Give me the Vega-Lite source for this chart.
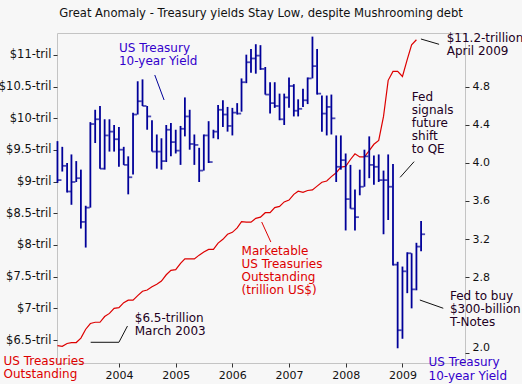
{
  "$schema": "https://vega.github.io/schema/vega-lite/v6.json",
  "width": 408,
  "height": 330,
  "autosize": "none",
  "padding": {"left": 57, "top": 33, "right": 57, "bottom": 21},
  "background": "#f7f7f7",
  "config": {
    "font": "DejaVu Sans",
    "view": {"stroke": "#c4c4c4", "strokeWidth": 1},
    "axis": {"labelFont": "DejaVu Sans", "titleFont": "DejaVu Sans", "grid": false, "domain": false, "labelColor": "#111", "tickColor": "#333"}
  },
  "title": {"text": "Great Anomaly - Treasury yields Stay Low, despite Mushrooming debt", "fontSize": 11.6, "fontWeight": "normal", "color": "#111", "anchor": "middle", "offset": 12},
  "datasets": {
    "debt": [
      {"month": "2002-12-01", "trillions": 6.41}, {"month": "2003-01-01", "trillions": 6.40}, {"month": "2003-02-01", "trillions": 6.445},
      {"month": "2003-03-01", "trillions": 6.46}, {"month": "2003-04-01", "trillions": 6.46}, {"month": "2003-05-01", "trillions": 6.53},
      {"month": "2003-06-01", "trillions": 6.67}, {"month": "2003-07-01", "trillions": 6.76}, {"month": "2003-08-01", "trillions": 6.78},
      {"month": "2003-09-01", "trillions": 6.78}, {"month": "2003-10-01", "trillions": 6.87}, {"month": "2003-11-01", "trillions": 6.92},
      {"month": "2003-12-01", "trillions": 7.00}, {"month": "2004-01-01", "trillions": 7.01}, {"month": "2004-02-01", "trillions": 7.09},
      {"month": "2004-03-01", "trillions": 7.13}, {"month": "2004-04-01", "trillions": 7.13}, {"month": "2004-05-01", "trillions": 7.20},
      {"month": "2004-06-01", "trillions": 7.27}, {"month": "2004-07-01", "trillions": 7.29}, {"month": "2004-08-01", "trillions": 7.34},
      {"month": "2004-09-01", "trillions": 7.38}, {"month": "2004-10-01", "trillions": 7.43}, {"month": "2004-11-01", "trillions": 7.53},
      {"month": "2004-12-01", "trillions": 7.60}, {"month": "2005-01-01", "trillions": 7.61}, {"month": "2005-02-01", "trillions": 7.71},
      {"month": "2005-03-01", "trillions": 7.78}, {"month": "2005-04-01", "trillions": 7.78}, {"month": "2005-05-01", "trillions": 7.78},
      {"month": "2005-06-01", "trillions": 7.84}, {"month": "2005-07-01", "trillions": 7.89}, {"month": "2005-08-01", "trillions": 7.93},
      {"month": "2005-09-01", "trillions": 7.93}, {"month": "2005-10-01", "trillions": 8.03}, {"month": "2005-11-01", "trillions": 8.09},
      {"month": "2005-12-01", "trillions": 8.17}, {"month": "2006-01-01", "trillions": 8.20}, {"month": "2006-02-01", "trillions": 8.27},
      {"month": "2006-03-01", "trillions": 8.37}, {"month": "2006-04-01", "trillions": 8.36}, {"month": "2006-05-01", "trillions": 8.36},
      {"month": "2006-06-01", "trillions": 8.42}, {"month": "2006-07-01", "trillions": 8.44}, {"month": "2006-08-01", "trillions": 8.51},
      {"month": "2006-09-01", "trillions": 8.51}, {"month": "2006-10-01", "trillions": 8.59}, {"month": "2006-11-01", "trillions": 8.61},
      {"month": "2006-12-01", "trillions": 8.68}, {"month": "2007-01-01", "trillions": 8.71}, {"month": "2007-02-01", "trillions": 8.80},
      {"month": "2007-03-01", "trillions": 8.85}, {"month": "2007-04-01", "trillions": 8.83}, {"month": "2007-05-01", "trillions": 8.86},
      {"month": "2007-06-01", "trillions": 8.87}, {"month": "2007-07-01", "trillions": 8.93}, {"month": "2007-08-01", "trillions": 8.99},
      {"month": "2007-09-01", "trillions": 9.01}, {"month": "2007-10-01", "trillions": 9.08}, {"month": "2007-11-01", "trillions": 9.14},
      {"month": "2007-12-01", "trillions": 9.23}, {"month": "2008-01-01", "trillions": 9.24}, {"month": "2008-02-01", "trillions": 9.35},
      {"month": "2008-03-01", "trillions": 9.44}, {"month": "2008-04-01", "trillions": 9.39}, {"month": "2008-05-01", "trillions": 9.39},
      {"month": "2008-06-01", "trillions": 9.49}, {"month": "2008-07-01", "trillions": 9.59}, {"month": "2008-08-01", "trillions": 9.65},
      {"month": "2008-09-01", "trillions": 10.03}, {"month": "2008-10-01", "trillions": 10.60}, {"month": "2008-11-01", "trillions": 10.74},
      {"month": "2008-12-01", "trillions": 10.74}, {"month": "2009-01-01", "trillions": 10.66}, {"month": "2009-02-01", "trillions": 10.93},
      {"month": "2009-03-01", "trillions": 11.16}, {"month": "2009-04-01", "trillions": 11.24}
    ],
    "yields": [
      {"month": "2002-12-01", "high": 4.23, "low": 3.79, "close": 3.82},
      {"month": "2003-01-01", "high": 4.17, "low": 3.91, "close": 3.97},
      {"month": "2003-02-01", "high": 4.00, "low": 3.69, "close": 3.70},
      {"month": "2003-03-01", "high": 4.09, "low": 3.56, "close": 3.80},
      {"month": "2003-04-01", "high": 4.02, "low": 3.80, "close": 3.84},
      {"month": "2003-05-01", "high": 3.93, "low": 3.31, "close": 3.38},
      {"month": "2003-06-01", "high": 3.55, "low": 3.11, "close": 3.53},
      {"month": "2003-07-01", "high": 4.43, "low": 3.53, "close": 4.41},
      {"month": "2003-08-01", "high": 4.56, "low": 4.21, "close": 4.46},
      {"month": "2003-09-01", "high": 4.60, "low": 3.94, "close": 3.94},
      {"month": "2003-10-01", "high": 4.46, "low": 3.93, "close": 4.29},
      {"month": "2003-11-01", "high": 4.46, "low": 4.12, "close": 4.33},
      {"month": "2003-12-01", "high": 4.40, "low": 4.12, "close": 4.25},
      {"month": "2004-01-01", "high": 4.38, "low": 3.96, "close": 4.14},
      {"month": "2004-02-01", "high": 4.17, "low": 3.98, "close": 3.98},
      {"month": "2004-03-01", "high": 4.07, "low": 3.67, "close": 3.85},
      {"month": "2004-04-01", "high": 4.53, "low": 3.88, "close": 4.51},
      {"month": "2004-05-01", "high": 4.86, "low": 4.51, "close": 4.65},
      {"month": "2004-06-01", "high": 4.88, "low": 4.60, "close": 4.60},
      {"month": "2004-07-01", "high": 4.60, "low": 4.35, "close": 4.49},
      {"month": "2004-08-01", "high": 4.45, "low": 4.12, "close": 4.12},
      {"month": "2004-09-01", "high": 4.30, "low": 3.94, "close": 4.12},
      {"month": "2004-10-01", "high": 4.26, "low": 3.93, "close": 4.02},
      {"month": "2004-11-01", "high": 4.40, "low": 4.01, "close": 4.35},
      {"month": "2004-12-01", "high": 4.42, "low": 4.07, "close": 4.22},
      {"month": "2005-01-01", "high": 4.35, "low": 4.10, "close": 4.13},
      {"month": "2005-02-01", "high": 4.39, "low": 3.98, "close": 4.36},
      {"month": "2005-03-01", "high": 4.69, "low": 4.28, "close": 4.49},
      {"month": "2005-04-01", "high": 4.56, "low": 4.14, "close": 4.20},
      {"month": "2005-05-01", "high": 4.30, "low": 3.98, "close": 4.19},
      {"month": "2005-06-01", "high": 4.16, "low": 3.80, "close": 3.92},
      {"month": "2005-07-01", "high": 4.30, "low": 3.92, "close": 4.29},
      {"month": "2005-08-01", "high": 4.44, "low": 4.00, "close": 4.01},
      {"month": "2005-09-01", "high": 4.35, "low": 4.26, "close": 4.33},
      {"month": "2005-10-01", "high": 4.61, "low": 4.25, "close": 4.56},
      {"month": "2005-11-01", "high": 4.66, "low": 4.38, "close": 4.51},
      {"month": "2005-12-01", "high": 4.59, "low": 4.33, "close": 4.39},
      {"month": "2006-01-01", "high": 4.58, "low": 4.29, "close": 4.53},
      {"month": "2006-02-01", "high": 4.63, "low": 4.51, "close": 4.52},
      {"month": "2006-03-01", "high": 4.89, "low": 4.54, "close": 4.85},
      {"month": "2006-04-01", "high": 5.14, "low": 4.84, "close": 5.06},
      {"month": "2006-05-01", "high": 5.20, "low": 4.95, "close": 5.10},
      {"month": "2006-06-01", "high": 5.25, "low": 4.94, "close": 5.13},
      {"month": "2006-07-01", "high": 5.24, "low": 4.98, "close": 4.99},
      {"month": "2006-08-01", "high": 5.01, "low": 4.72, "close": 4.72},
      {"month": "2006-09-01", "high": 4.85, "low": 4.52, "close": 4.63},
      {"month": "2006-10-01", "high": 4.85, "low": 4.58, "close": 4.60},
      {"month": "2006-11-01", "high": 4.73, "low": 4.45, "close": 4.46},
      {"month": "2006-12-01", "high": 4.73, "low": 4.40, "close": 4.69},
      {"month": "2007-01-01", "high": 4.90, "low": 4.58, "close": 4.81},
      {"month": "2007-02-01", "high": 4.83, "low": 4.49, "close": 4.55},
      {"month": "2007-03-01", "high": 4.67, "low": 4.49, "close": 4.57},
      {"month": "2007-04-01", "high": 4.78, "low": 4.59, "close": 4.66},
      {"month": "2007-05-01", "high": 4.90, "low": 4.62, "close": 4.89},
      {"month": "2007-06-01", "high": 5.33, "low": 4.89, "close": 5.02},
      {"month": "2007-07-01", "high": 5.20, "low": 4.72, "close": 4.73},
      {"month": "2007-08-01", "high": 4.71, "low": 4.33, "close": 4.52},
      {"month": "2007-09-01", "high": 4.71, "low": 4.29, "close": 4.59},
      {"month": "2007-10-01", "high": 4.72, "low": 4.30, "close": 4.47},
      {"month": "2007-11-01", "high": 4.29, "low": 3.80, "close": 3.96},
      {"month": "2007-12-01", "high": 4.29, "low": 3.93, "close": 4.03},
      {"month": "2008-01-01", "high": 4.10, "low": 3.29, "close": 3.62},
      {"month": "2008-02-01", "high": 3.98, "low": 3.52, "close": 3.52},
      {"month": "2008-03-01", "high": 3.72, "low": 3.29, "close": 3.43},
      {"month": "2008-04-01", "high": 3.93, "low": 3.66, "close": 3.75},
      {"month": "2008-05-01", "high": 4.14, "low": 3.75, "close": 4.07},
      {"month": "2008-06-01", "high": 4.28, "low": 3.84, "close": 3.98},
      {"month": "2008-07-01", "high": 4.08, "low": 3.77, "close": 3.96},
      {"month": "2008-08-01", "high": 4.09, "low": 3.80, "close": 3.82},
      {"month": "2008-09-01", "high": 3.92, "low": 3.25, "close": 3.82},
      {"month": "2008-10-01", "high": 4.09, "low": 3.40, "close": 3.75},
      {"month": "2008-11-01", "high": 3.99, "low": 2.92, "close": 2.93},
      {"month": "2008-12-01", "high": 2.96, "low": 2.05, "close": 2.24},
      {"month": "2009-01-01", "high": 2.91, "low": 2.15, "close": 2.86},
      {"month": "2009-02-01", "high": 3.06, "low": 2.63, "close": 3.05},
      {"month": "2009-03-01", "high": 3.05, "low": 2.47, "close": 2.67},
      {"month": "2009-04-01", "high": 3.16, "low": 2.66, "close": 3.12},
      {"month": "2009-05-01", "high": 3.39, "low": 3.07, "close": 3.25}
    ],
    "notes": [
      {"month": "2004-01-01", "level": 5.258, "label": "US Treasury\n10-year Yield", "about": "yield"},
      {"month": "2009-10-13", "level": 5.37, "label": "$11.2-trillion\nApril 2009", "about": "event"},
      {"month": "2009-03-02", "level": 4.742, "label": "Fed\nsignals\nfuture\nshift\nto QE", "about": "event"},
      {"month": "2006-03-01", "level": 3.124, "label": "Marketable\nUS Treasuries\nOutstanding\n(trillion US$)", "about": "debt"},
      {"month": "2004-04-12", "level": 2.416, "label": "$6.5-trillion\nMarch 2003", "about": "event"},
      {"month": "2009-11-03", "level": 2.655, "label": "Fed to buy\n$300-billion\nT-Notes", "about": "event"}
    ],
    "links": [
      {"from": "2004-08-19", "to": "2004-10-18", "y1": 4.926, "y2": 4.663, "about": "yield"},
      {"from": "2009-04-30", "to": "2009-08-25", "y1": 5.305, "y2": 5.249, "about": "event"},
      {"from": "2008-12-17", "to": "2009-03-17", "y1": 3.849, "y2": 4.014, "about": "event"},
      {"from": "2006-07-09", "to": "2006-09-06", "y1": 3.379, "y2": 3.168, "about": "debt"},
      {"from": "2003-07-03", "to": "2004-01-01", "y1": 2.113, "y2": 2.113, "about": "event"},
      {"from": "2004-01-01", "to": "2004-02-25", "y1": 2.113, "y2": 2.284, "about": "event"},
      {"from": "2009-04-23", "to": "2009-09-21", "y1": 2.558, "y2": 2.471, "about": "event"}
    ]
  },
  "layer": [
    {
      "data": {"name": "debt"},
      "mark": {"type": "line", "color": "#dd0000", "strokeWidth": 1.2},
      "encoding": {
        "x": {
          "field": "month", "type": "temporal", "title": null,
          "scale": {"type": "utc", "domain": [{"year": 2002, "month": 11, "date": 28, "utc": true}, {"year": 2010, "month": 2, "date": 8, "utc": true}]},
          "axis": {
            "values": [{"year": 2004, "utc": true}, {"year": 2005, "utc": true}, {"year": 2006, "utc": true}, {"year": 2007, "utc": true}, {"year": 2008, "utc": true}, {"year": 2009, "utc": true}],
            "format": "%Y", "title": null, "labelFontSize": 11, "tickSize": 4, "labelPadding": 2
          }
        },
        "y": {
          "field": "trillions", "type": "quantitative",
          "scale": {"domain": [6.137, 11.347], "nice": false, "zero": false},
          "axis": {
            "orient": "left",
            "values": [6.5, 7, 7.5, 8, 8.5, 9, 9.5, 10, 10.5, 11],
            "labelExpr": "'$' + datum.value + '-tril'",
            "labelFontSize": 11.5, "tickSize": 4, "labelPadding": 2,
            "title": ["US Treasuries", "Outstanding"],
            "titleColor": "#dd0000", "titleFontSize": 12, "titleFontWeight": "normal",
            "titleAngle": 0, "titleAlign": "left", "titleBaseline": "alphabetic",
            "titleX": -54, "titleY": 331, "titleLineHeight": 13
          }
        }
      }
    },
    {
      "layer": [
        {
          "data": {"name": "yields"},
          "mark": {"type": "rule", "color": "#000099", "strokeWidth": 1.8},
          "encoding": {
            "x": {"field": "month", "type": "temporal", "title": null},
            "y": {
              "field": "high", "type": "quantitative",
              "scale": {"domain": [1.895, 5.368], "nice": false, "zero": false},
              "axis": {
                "orient": "right",
                "values": [2.0, 2.8, 3.2, 3.6, 4.0, 4.4, 4.8],
                "format": ".1f", "labelFontSize": 11, "tickSize": 4, "labelPadding": 3,
                "labelOffset": {"condition": {"test": "datum.value < 2.1", "value": -6}, "value": 0},
                "title": ["US Treasury", "10-year Yield"],
                "titleColor": "#3300cc", "titleFontSize": 12, "titleFontWeight": "normal",
                "titleAngle": 0, "titleAlign": "left", "titleBaseline": "alphabetic",
                "titleX": -37, "titleY": 332, "titleLineHeight": 14
              }
            },
            "y2": {"field": "low"}
          }
        },
        {
          "data": {"name": "yields"},
          "mark": {"type": "tick", "orient": "horizontal", "color": "#000099", "size": 4, "thickness": 1.8, "xOffset": 2},
          "encoding": {
            "x": {"field": "month", "type": "temporal", "title": null},
            "y": {"field": "close", "type": "quantitative"}
          }
        },
        {
          "data": {"name": "links"},
          "transform": [{"filter": "datum.about == 'yield'"}],
          "mark": {"type": "rule", "color": "#000099", "strokeWidth": 1},
          "encoding": {
            "x": {"field": "from", "type": "temporal", "title": null},
            "x2": {"field": "to"},
            "y": {"field": "y1", "type": "quantitative"},
            "y2": {"field": "y2"}
          }
        },
        {
          "data": {"name": "links"},
          "transform": [{"filter": "datum.about == 'debt'"}],
          "mark": {"type": "rule", "color": "#dd0000", "strokeWidth": 1},
          "encoding": {
            "x": {"field": "from", "type": "temporal", "title": null},
            "x2": {"field": "to"},
            "y": {"field": "y1", "type": "quantitative"},
            "y2": {"field": "y2"}
          }
        },
        {
          "data": {"name": "links"},
          "transform": [{"filter": "datum.about == 'event'"}],
          "mark": {"type": "rule", "color": "#111111", "strokeWidth": 1},
          "encoding": {
            "x": {"field": "from", "type": "temporal", "title": null},
            "x2": {"field": "to"},
            "y": {"field": "y1", "type": "quantitative"},
            "y2": {"field": "y2"}
          }
        },
        {
          "data": {"name": "notes"},
          "transform": [{"filter": "datum.about == 'yield'"}],
          "mark": {"type": "text", "align": "left", "baseline": "top", "lineBreak": "\n", "fontSize": 12, "lineHeight": 13, "color": "#3300cc"},
          "encoding": {
            "x": {"field": "month", "type": "temporal", "title": null},
            "y": {"field": "level", "type": "quantitative"},
            "text": {"field": "label"}
          }
        },
        {
          "data": {"name": "notes"},
          "transform": [{"filter": "datum.about == 'debt'"}],
          "mark": {"type": "text", "align": "left", "baseline": "top", "lineBreak": "\n", "fontSize": 12, "lineHeight": 13, "color": "#dd0000"},
          "encoding": {
            "x": {"field": "month", "type": "temporal", "title": null},
            "y": {"field": "level", "type": "quantitative"},
            "text": {"field": "label"}
          }
        },
        {
          "data": {"name": "notes"},
          "transform": [{"filter": "datum.about == 'event'"}],
          "mark": {"type": "text", "align": "left", "baseline": "top", "lineBreak": "\n", "fontSize": 12, "lineHeight": 13, "color": "#220022"},
          "encoding": {
            "x": {"field": "month", "type": "temporal", "title": null},
            "y": {"field": "level", "type": "quantitative"},
            "text": {"field": "label"}
          }
        }
      ]
    }
  ],
  "resolve": {"scale": {"y": "independent"}}
}
